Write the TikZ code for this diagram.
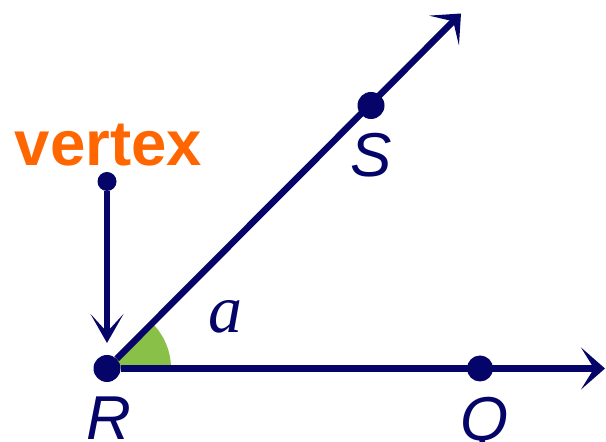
\documentclass[tikz,border=0pt]{standalone}
\usepackage{fontspec}
\setmainfont{Liberation Sans}
\newfontfamily\serifface{Liberation Serif}
\usetikzlibrary{arrows.meta}
\definecolor{navy}{RGB}{5,5,105}
\definecolor{vorange}{RGB}{255,102,0}
\definecolor{angfill}{RGB}{137,192,72}
\tikzset{
  dot/.style={circle, fill=navy, inner sep=0pt, minimum size=#1},
  ray/.style={draw=navy, line width=6.5bp, -{Stealth[length=24bp, width=42bp, inset=13bp]}},
  varrow/.style={draw=navy, line width=5.5bp, -{Stealth[length=29bp, width=33bp, inset=18bp]}},
  ptlabel/.style={text=navy, anchor=base, inner sep=0pt, font=\fontsize{62bp}{70bp}\selectfont\itshape},
}
\begin{document}
\begin{tikzpicture}[x=1bp,y=1bp]
\useasboundingbox (0,0) rectangle (606,442);
\coordinate (O) at (107,73.5);
\fill[angfill] (O) -- ++(64,0) arc[start angle=0, end angle=45, radius=64] -- cycle;
\coordinate (tipS) at (461,428.5);
\coordinate (tipQ) at (605,73.5);
\coordinate (vtip) at (107,99);
\node[dot=27bp] (R) at (O) {};
\node[dot=27bp] (S) at (371,336.5) {};
\node[dot=26bp] (Q) at (480,73.5) {};
\node[dot=19bp] (v) at (107,260.5) {};
\draw[ray] (R) -- (tipS);
\draw[ray] (R) -- (tipQ);
\draw[varrow] (v) -- (vtip);
\node[anchor=base, inner sep=0pt, text=vorange, font=\fontsize{63.5bp}{70bp}\selectfont\bfseries] (vl) at (108.5,276) {vertex};
\node[ptlabel] (Rl) at (109,2) {R};
\node[ptlabel] (Sl) at (371.5,265) {S};
\node[ptlabel] (Ql) at (485,1) {Q};
\node[anchor=base, inner sep=0pt, text=navy, font=\fontsize{68bp}{70bp}\selectfont\serifface\itshape] (al) at (225,109) {a};
\end{tikzpicture}
\end{document}
